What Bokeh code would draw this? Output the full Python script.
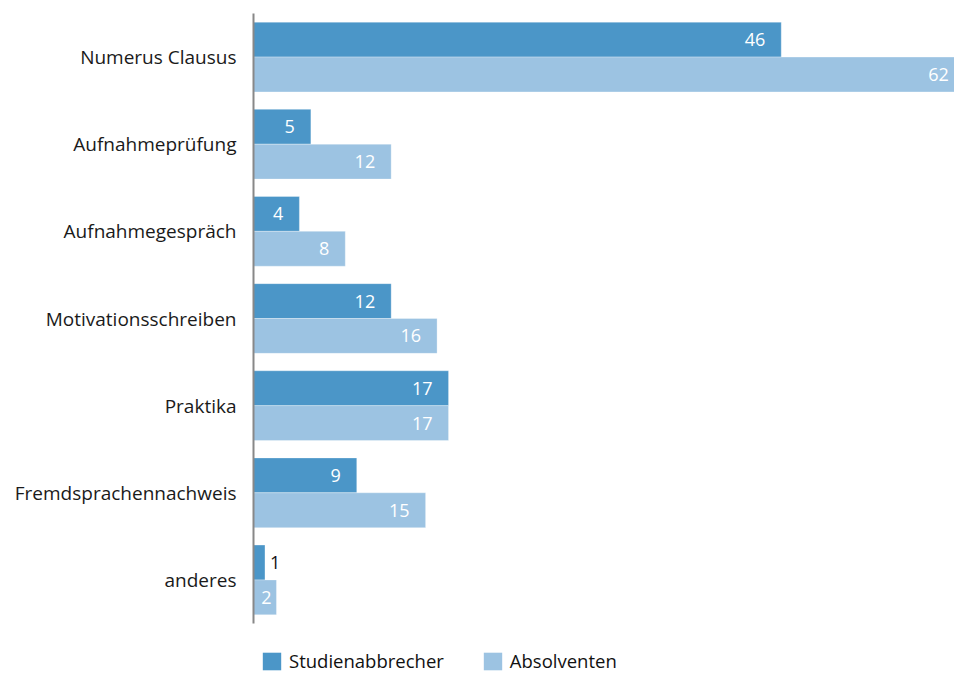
from bokeh.plotting import figure
from bokeh.models import ColumnDataSource, FactorRange, Range1d, Legend, LegendItem
from bokeh.layouts import column
from bokeh.transform import dodge
from bokeh.core.properties import value
from bokeh.embed import file_html
from bokeh.resources import INLINE

categories = ["Numerus Clausus", "Aufnahmeprüfung", "Aufnahmegespräch",
              "Motivationsschreiben", "Praktika", "Fremdsprachennachweis", "anderes"]
studienabbrecher = [46, 5, 4, 12, 17, 9, 1]
absolventen = [62, 12, 8, 16, 17, 15, 2]
series_names = ["Studienabbrecher", "Absolventen"]

DARK = "#4b96c8"
LIGHT = "#9cc3e2"
FONT = "Open Sans"

def label_style(vals):
    colors, offs, aligns = [], [], []
    for v in vals:
        if v < 2:
            colors.append("#111111"); offs.append(5); aligns.append("left")
        elif v < 3:
            colors.append("#ffffff"); offs.append(-5); aligns.append("right")
        else:
            colors.append("#ffffff"); offs.append(-16); aligns.append("right")
    return colors, offs, aligns

c1, o1, a1 = label_style(studienabbrecher)
c2, o2, a2 = label_style(absolventen)

src = ColumnDataSource(dict(
    cat=categories,
    s1=studienabbrecher, s2=absolventen,
    t1=[str(v) for v in studienabbrecher], t2=[str(v) for v in absolventen],
    c1=c1, o1=o1, a1=a1, c2=c2, o2=o2, a2=a2,
))

p = figure(width=954, height=635, output_backend="svg", toolbar_location=None,
           y_range=FactorRange(factors=list(reversed(categories)), range_padding=0),
           x_range=Range1d(0, 61.1),
           min_border_left=253, min_border_right=0, min_border_top=13, min_border_bottom=12)
p.outline_line_color = None
p.xgrid.visible = False
p.ygrid.visible = False
p.xaxis.visible = False

r1 = p.hbar(y=dodge("cat", 0.2, range=p.y_range), right="s1", left=0, height=0.4,
            source=src, fill_color=DARK, line_color="#ffffff", line_width=0.6, line_alpha=0.5)
r2 = p.hbar(y=dodge("cat", -0.2, range=p.y_range), right="s2", left=0, height=0.4,
            source=src, fill_color=LIGHT, line_color="#ffffff", line_width=0.6, line_alpha=0.5)

p.text(x="s1", y=dodge("cat", 0.2, range=p.y_range), text="t1", source=src,
       x_offset="o1", text_align="a1", text_baseline="middle", text_color="c1",
       text_font=value(FONT), text_font_size="18px")
p.text(x="s2", y=dodge("cat", -0.2, range=p.y_range), text="t2", source=src,
       x_offset="o2", text_align="a2", text_baseline="middle", text_color="c2",
       text_font=value(FONT), text_font_size="18px")

ax = p.yaxis[0]
ax.major_tick_line_color = None
ax.minor_tick_line_color = None
ax.axis_line_color = "#888888"
ax.axis_line_width = 2
ax.major_label_text_font = FONT
ax.major_label_text_font_size = "19px"
ax.major_label_text_color = "#1a1a1a"
ax.major_label_standoff = 11

# legend strip (frame is aligned with the main plot's frame by the column layout)
lg = figure(width=954, height=38, output_backend="svg", toolbar_location=None,
            x_range=Range1d(0, 1), y_range=Range1d(0, 1),
            min_border_left=253, min_border_right=0, min_border_top=0, min_border_bottom=0)
lg.axis.visible = False
lg.grid.visible = False
lg.outline_line_color = None
d1 = lg.hbar(y=[-5], right=[0.5], left=[0], height=0.5, fill_color=DARK, line_color=None)
d2 = lg.hbar(y=[-5], right=[0.5], left=[0], height=0.5, fill_color=LIGHT, line_color=None)

legend = Legend(items=[LegendItem(label=series_names[0], renderers=[d1]),
                       LegendItem(label=series_names[1], renderers=[d2])],
                orientation="horizontal", location=(7, 0),
                glyph_width=23, glyph_height=22, label_standoff=6, spacing=37,
                label_text_font=FONT, label_text_font_size="18.5px", label_text_color="#111111",
                border_line_color=None, background_fill_alpha=0, padding=0, margin=0)
lg.add_layout(legend, "center")

layout = column(p, lg, spacing=0)
open("out.html", "w").write(file_html(layout, INLINE))
